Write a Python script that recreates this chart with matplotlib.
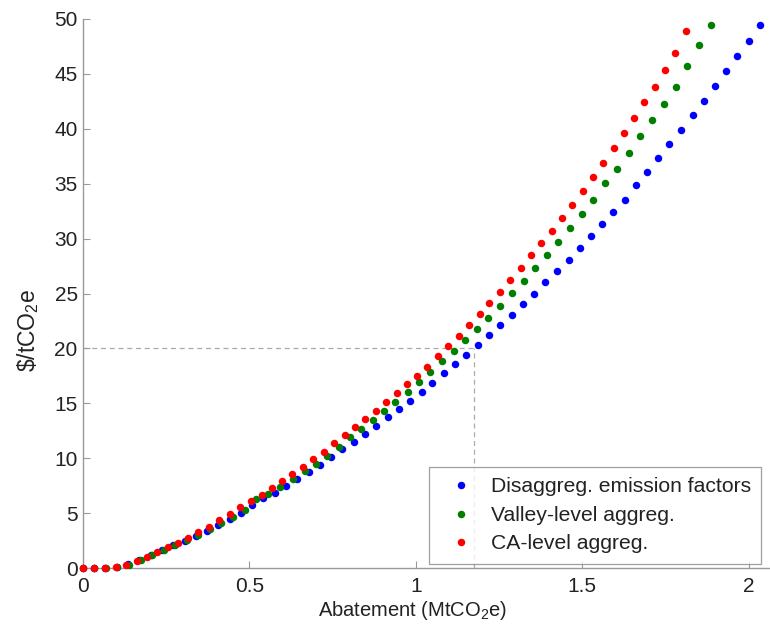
import matplotlib
matplotlib.use("Agg")
import matplotlib.pyplot as plt

plt.rcParams['font.family'] = ['Liberation Sans', 'DejaVu Sans']
plt.rcParams['mathtext.default'] = 'regular'

# Disaggregated emission factors (blue)
blue_x = [0.000, 0.034, 0.068, 0.102, 0.136, 0.170, 0.204, 0.238, 0.272, 0.306,
          0.339, 0.373, 0.407, 0.441, 0.475, 0.509, 0.542, 0.577, 0.611, 0.644,
          0.679, 0.713, 0.746, 0.780, 0.815, 0.848, 0.881, 0.916, 0.950, 0.983,
          1.018, 1.050, 1.084, 1.118, 1.152, 1.186, 1.220, 1.254, 1.289, 1.322,
          1.355, 1.389, 1.424, 1.459, 1.492, 1.526, 1.559, 1.593, 1.629, 1.662,
          1.695, 1.729, 1.762, 1.797, 1.833, 1.866, 1.900, 1.932, 1.966, 2.001,
          2.035]
blue_y = [0.00, 0.00, 0.00, 0.10, 0.35, 0.75, 1.15, 1.60, 2.05, 2.50,
          2.95, 3.40, 3.95, 4.45, 5.00, 5.70, 6.35, 6.86, 7.47, 8.13,
          8.74, 9.40, 10.08, 10.81, 11.48, 12.20, 12.93, 13.73, 14.45, 15.24,
          16.07, 16.88, 17.73, 18.55, 19.43, 20.31, 21.22, 22.13, 23.07, 24.01,
          24.98, 26.05, 27.05, 28.05, 29.14, 30.24, 31.33, 32.42, 33.52, 34.85,
          36.07, 37.37, 38.59, 39.92, 41.23, 42.56, 43.90, 45.26, 46.66, 48.02,
          49.45]

# Valley-level aggregation (green)
green_x = [0.000, 0.035, 0.069, 0.104, 0.139, 0.174, 0.208, 0.243, 0.278, 0.312,
           0.347, 0.382, 0.416, 0.451, 0.486, 0.520, 0.556, 0.592, 0.631, 0.667,
           0.701, 0.735, 0.769, 0.803, 0.836, 0.872, 0.906, 0.939, 0.976, 1.010,
           1.044, 1.078, 1.114, 1.149, 1.183, 1.218, 1.253, 1.289, 1.324, 1.358,
           1.394, 1.428, 1.463, 1.498, 1.533, 1.568, 1.604, 1.640, 1.674, 1.710,
           1.746, 1.781, 1.816, 1.851, 1.887]
green_y = [0.00, 0.00, 0.00, 0.10, 0.30, 0.75, 1.15, 1.60, 2.05, 2.55,
           3.05, 3.55, 4.10, 4.65, 5.25, 6.26, 6.77, 7.40, 8.13, 8.81,
           9.47, 10.20, 11.05, 11.90, 12.63, 13.48, 14.30, 15.12, 16.06, 16.91,
           17.82, 18.83, 19.79, 20.77, 21.79, 22.80, 23.89, 25.02, 26.14, 27.30,
           28.53, 29.72, 30.94, 32.27, 33.52, 35.04, 36.37, 37.82, 39.32, 40.80,
           42.29, 43.84, 45.69, 47.60, 49.45]

# CA-level aggregation (red)
red_x = [0.000, 0.033, 0.067, 0.099, 0.131, 0.162, 0.193, 0.224, 0.255, 0.285,
         0.315, 0.347, 0.378, 0.410, 0.441, 0.473, 0.505, 0.538, 0.568, 0.598,
         0.629, 0.662, 0.692, 0.724, 0.755, 0.787, 0.818, 0.849, 0.880, 0.911,
         0.943, 0.975, 1.005, 1.035, 1.067, 1.098, 1.130, 1.160, 1.192, 1.221,
         1.253, 1.284, 1.315, 1.346, 1.377, 1.409, 1.440, 1.470, 1.502, 1.532,
         1.563, 1.595, 1.625, 1.655, 1.686, 1.719, 1.750, 1.780, 1.811]
red_y = [0.00, 0.00, 0.00, 0.09, 0.27, 0.66, 0.97, 1.43, 1.88, 2.30,
         2.76, 3.25, 3.76, 4.34, 4.89, 5.53, 6.07, 6.68, 7.31, 7.95,
         8.56, 9.23, 9.90, 10.59, 11.36, 12.09, 12.81, 13.57, 14.33, 15.15,
         15.94, 16.73, 17.51, 18.33, 19.34, 20.25, 21.16, 22.13, 23.13, 24.13,
         25.16, 26.26, 27.35, 28.48, 29.60, 30.67, 31.88, 33.09, 34.34, 35.58,
         36.89, 38.25, 39.62, 41.01, 42.44, 43.84, 45.36, 46.93, 48.91]

labels = ['Disaggreg. emission factors', 'Valley-level aggreg.', 'CA-level aggreg.']
colors = ['#0000ff', '#008000', '#ff0000']

ref_price = 20
ref_abatement = 1.175

x_ticks = [0, 0.5, 1, 1.5, 2]
x_tick_labels = ['0', '0.5', '1', '1.5', '2']
y_ticks = list(range(0, 51, 5))

W, H = 770, 631
ax_l, ax_b, ax_t = 82.7, 568, 19
fig = plt.figure(figsize=(W / 100, H / 100), dpi=100)
ax = fig.add_axes([ax_l / W, 1 - ax_b / H, 1 - ax_l / W, (ax_b - ax_t) / H])
aw, ah = W - ax_l, ax_b - ax_t

ax.plot([0, ref_abatement], [ref_price, ref_price], ls=(0, (4, 3)), color='#aaaaaa', lw=0.9, zorder=1)
ax.plot([ref_abatement, ref_abatement], [0, ref_price], ls=(0, (4, 3)), color='#aaaaaa', lw=0.9, zorder=1)

for xs, ys, c, lab in zip([blue_x, green_x, red_x], [blue_y, green_y, red_y], colors, labels):
    ax.plot(xs, ys, ls='none', marker='o', ms=5.4, mec='none', color=c, label=lab, zorder=3, clip_on=False)

ax.set_xlim(0, 2.064)
ax.set_ylim(0, 50)
ax.set_xticks(x_ticks)
ax.set_xticklabels(x_tick_labels)
ax.set_yticks(y_ticks)

for s in ['top', 'right']:
    ax.spines[s].set_visible(False)
for s in ['left', 'bottom']:
    ax.spines[s].set_color('#999999')
    ax.spines[s].set_linewidth(1.0)
ax.tick_params(direction='in', length=5, color='#999999', labelsize=15, labelcolor='#222222')
ax.tick_params(axis='x', pad=6.5)
ax.tick_params(axis='y', pad=3.6)

ax.set_xlabel('Abatement (MtCO$_2$e)', fontsize=14.5, color='#222222')
ax.xaxis.set_label_coords((413 - ax_l) / aw, (ax_b - 599) / ah)
ax.set_ylabel('\\$/tCO$_2$e', fontsize=16.5, color='#222222')
ax.yaxis.set_label_coords((41 - ax_l) / aw, (ax_b - 330) / ah)

leg = ax.legend(loc='upper left', bbox_to_anchor=((429.3 - ax_l) / aw, (ax_b - 467.3) / ah),
                frameon=True, fancybox=False, edgecolor='#888888', fontsize=15.2,
                handletextpad=0.38, borderpad=0.48, borderaxespad=0,
                labelspacing=0.45, handlelength=2.05, markerscale=1.0)
leg.get_frame().set_linewidth(0.9)
for t in leg.get_texts():
    t.set_color('#222222')
leg.set_zorder(5)

fig.savefig('out.png', dpi=100)
